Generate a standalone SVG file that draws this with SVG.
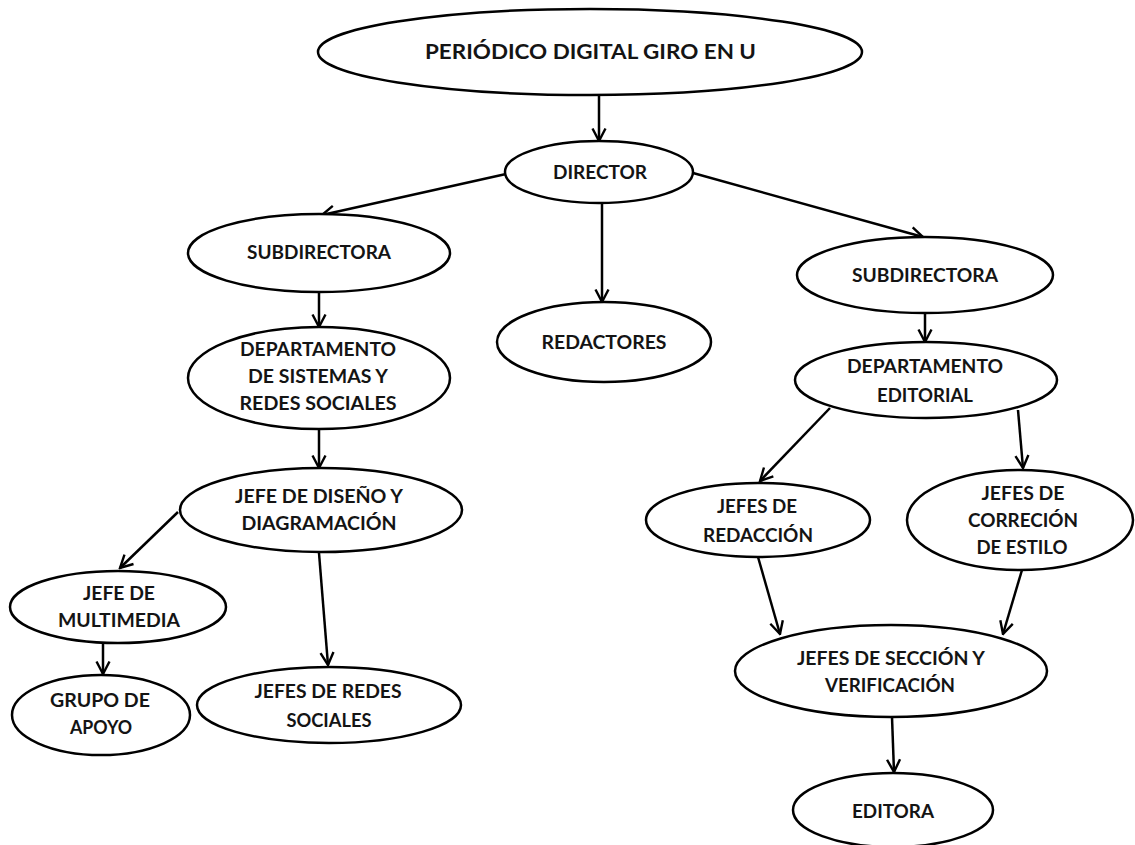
<svg xmlns="http://www.w3.org/2000/svg" width="1135" height="845" viewBox="0 0 1135 845">
<style>
.n{fill:#fff;stroke:#000;stroke-width:2.5}
.t{font-family:Lato,"Open Sans","Liberation Sans",sans-serif;font-weight:bold;font-size:19px;fill:#141414;text-anchor:middle}
.big{font-size:20px}
.c line{stroke:#000;stroke-width:2.5;marker-end:url(#arr)}
</style>
<defs>
<marker id="arr" viewBox="0 0 16 16" refX="14.5" refY="8" markerWidth="16" markerHeight="16" orient="auto" markerUnits="userSpaceOnUse">
<path d="M2,1.5 L14.5,8 L2,14.5" fill="none" stroke="#000" stroke-width="2.4"/>
</marker>
</defs>
<rect width="1135" height="845" fill="#fff"/>
<g id="connectors" class="c">
<line x1="599" y1="95" x2="599" y2="141"/>
<line x1="506" y1="174" x2="322" y2="215"/>
<line x1="602" y1="203" x2="602" y2="302"/>
<line x1="693" y1="173" x2="923" y2="237"/>
<line x1="319" y1="292" x2="319" y2="327"/>
<line x1="319" y1="430" x2="319" y2="468"/>
<line x1="178" y1="512" x2="120" y2="568"/>
<line x1="319" y1="553" x2="328" y2="665"/>
<line x1="103" y1="643" x2="103" y2="674"/>
<line x1="925" y1="313" x2="925" y2="342"/>
<line x1="830" y1="408" x2="760" y2="481"/>
<line x1="1018" y1="410" x2="1023" y2="468"/>
<line x1="758" y1="557" x2="780" y2="634"/>
<line x1="1022" y1="570" x2="1003" y2="634"/>
<line x1="892" y1="717" x2="894" y2="772"/>
</g>
<g id="titulo"><ellipse class="n" cx="590" cy="52" rx="272" ry="43"/><text class="t big" x="590.5" y="59" textLength="331" lengthAdjust="spacingAndGlyphs">PERIÓDICO DIGITAL GIRO EN U</text></g>
<g id="director"><ellipse class="n" cx="599" cy="172" rx="94" ry="31"/><text class="t" x="600" y="179" textLength="94" lengthAdjust="spacingAndGlyphs">DIRECTOR</text></g>
<g id="subdirectora1"><ellipse class="n" cx="319" cy="253" rx="131" ry="39"/><text class="t" x="319" y="259" textLength="144" lengthAdjust="spacingAndGlyphs">SUBDIRECTORA</text></g>
<g id="redactores"><ellipse class="n" cx="604" cy="342" rx="107" ry="40"/><text class="t" x="604" y="349" textLength="125" lengthAdjust="spacingAndGlyphs">REDACTORES</text></g>
<g id="subdirectora2"><ellipse class="n" cx="925" cy="275" rx="128" ry="38"/><text class="t" x="925" y="282" textLength="146" lengthAdjust="spacingAndGlyphs">SUBDIRECTORA</text></g>
<g id="dep-sistemas"><ellipse class="n" cx="319" cy="378" rx="131" ry="51"/>
<text class="t" x="318" y="356" textLength="156" lengthAdjust="spacingAndGlyphs">DEPARTAMENTO</text>
<text class="t" x="318" y="383" textLength="140" lengthAdjust="spacingAndGlyphs">DE SISTEMAS Y</text>
<text class="t" x="318" y="410" textLength="157" lengthAdjust="spacingAndGlyphs">REDES SOCIALES</text></g>
<g id="dep-editorial"><ellipse class="n" cx="926" cy="380" rx="131" ry="38"/>
<text class="t" x="925" y="373" textLength="156" lengthAdjust="spacingAndGlyphs">DEPARTAMENTO</text>
<text class="t" x="925" y="402" textLength="96" lengthAdjust="spacingAndGlyphs">EDITORIAL</text></g>
<g id="jefe-diseno"><ellipse class="n" cx="321" cy="510" rx="141" ry="42"/>
<text class="t" x="319" y="503" textLength="168" lengthAdjust="spacingAndGlyphs">JEFE DE DISEÑO Y</text>
<text class="t" x="319" y="530" textLength="155" lengthAdjust="spacingAndGlyphs">DIAGRAMACIÓN</text></g>
<g id="jefe-multimedia"><ellipse class="n" cx="118" cy="607" rx="108" ry="36"/>
<text class="t" x="119" y="600" textLength="72" lengthAdjust="spacingAndGlyphs">JEFE DE</text>
<text class="t" x="119" y="627" textLength="122" lengthAdjust="spacingAndGlyphs">MULTIMEDIA</text></g>
<g id="grupo-apoyo"><ellipse class="n" cx="101" cy="715" rx="89" ry="40"/>
<text class="t" x="100" y="707" textLength="100" lengthAdjust="spacingAndGlyphs">GRUPO DE</text>
<text class="t" x="101" y="734" textLength="62" lengthAdjust="spacingAndGlyphs">APOYO</text></g>
<g id="jefes-redes"><ellipse class="n" cx="329" cy="705" rx="132" ry="38"/>
<text class="t" x="328" y="698" textLength="147" lengthAdjust="spacingAndGlyphs">JEFES DE REDES</text>
<text class="t" x="329" y="727" textLength="85" lengthAdjust="spacingAndGlyphs">SOCIALES</text></g>
<g id="jefes-redaccion"><ellipse class="n" cx="758" cy="520" rx="112" ry="37"/>
<text class="t" x="757" y="513" textLength="80" lengthAdjust="spacingAndGlyphs">JEFES DE</text>
<text class="t" x="758" y="542" textLength="110" lengthAdjust="spacingAndGlyphs">REDACCIÓN</text></g>
<g id="jefes-correcion"><ellipse class="n" cx="1020" cy="520" rx="113" ry="50"/>
<text class="t" x="1023" y="500" textLength="83" lengthAdjust="spacingAndGlyphs">JEFES DE</text>
<text class="t" x="1023" y="527" textLength="110" lengthAdjust="spacingAndGlyphs">CORRECIÓN</text>
<text class="t" x="1022" y="554" textLength="91" lengthAdjust="spacingAndGlyphs">DE ESTILO</text></g>
<g id="jefes-seccion"><ellipse class="n" cx="891" cy="671" rx="156" ry="46"/>
<text class="t" x="891" y="665" textLength="188" lengthAdjust="spacingAndGlyphs">JEFES DE SECCIÓN Y</text>
<text class="t" x="890" y="692" textLength="130" lengthAdjust="spacingAndGlyphs">VERIFICACIÓN</text></g>
<g id="editora"><ellipse class="n" cx="893" cy="810" rx="100" ry="37"/>
<text class="t" x="893" y="818" textLength="82" lengthAdjust="spacingAndGlyphs">EDITORA</text></g>
</svg>
